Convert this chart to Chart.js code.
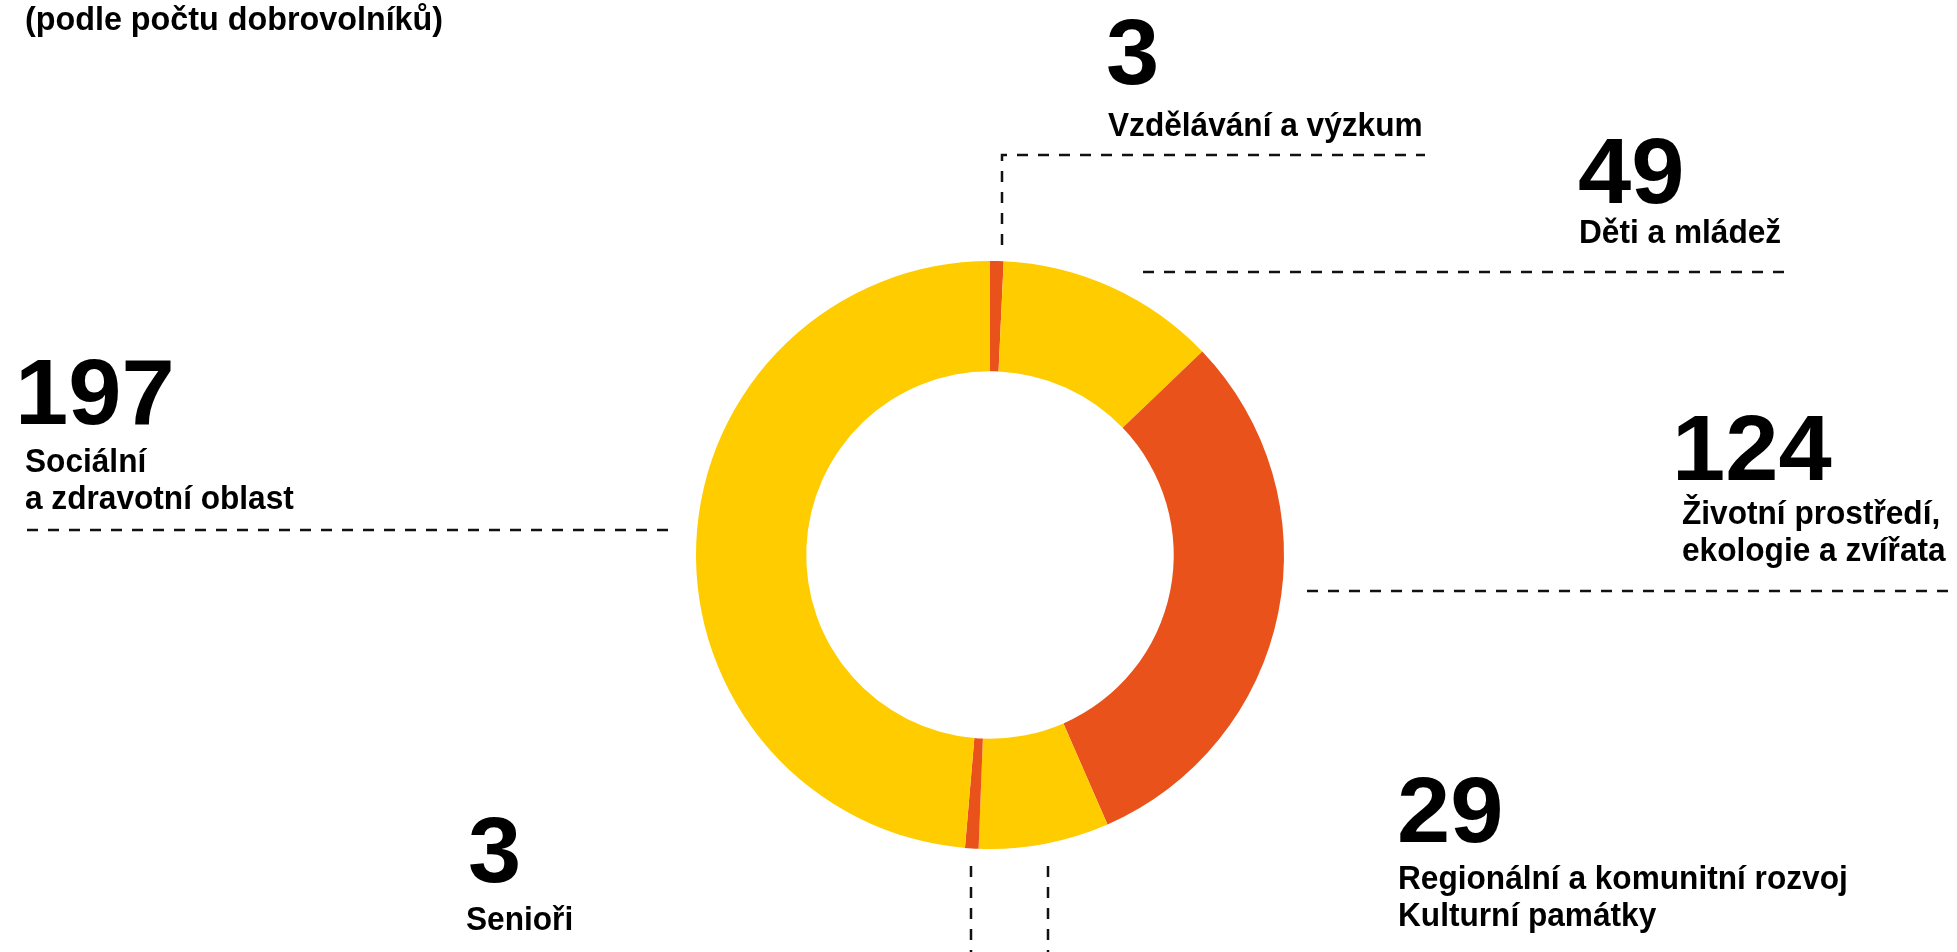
<!DOCTYPE html>
<html lang="cs">
<head>
<meta charset="utf-8">
<title>Dobrovolníci podle oblasti</title>
<script src="https://cdn.jsdelivr.net/npm/chart.js@4.4.1/dist/chart.umd.min.js"></script>
<style>
  html, body { margin: 0; padding: 0; background: #fff; }
  #wrap { position: relative; width: 1957px; height: 952px; overflow: hidden; }
</style>
</head>
<body>
<div id="wrap"><canvas id="donut"></canvas></div>
<script>
// data (clockwise from 12 o'clock)
const categories = [
  'Vzdělávání a výzkum',
  'Děti a mládež',
  'Životní prostředí, ekologie a zvířata',
  'Regionální a komunitní rozvoj, Kulturní památky',
  'Senioři',
  'Sociální a zdravotní oblast'
];
const volunteers = [3, 49, 124, 29, 3, 197];
const labelLines = [
  ['Vzdělávání a výzkum'],
  ['Děti a mládež'],
  ['Životní prostředí,', 'ekologie a zvířata'],
  ['Regionální a komunitní rozvoj', 'Kulturní památky'],
  ['Senioři'],
  ['Sociální', 'a zdravotní oblast']
];
const subtitle = '(podle počtu dobrovolníků)';

const YELLOW = '#FFCC00';
const ORANGE = '#E9531B';
const sliceColors = [ORANGE, YELLOW, ORANGE, YELLOW, ORANGE, YELLOW];

// where each callout sits: number x/baseline, label x/first baseline, dashed leader
const callouts = [
  { nx: 1106, ny: 84,  lx: 1108, ly: 136, line: [[1002, 245], [1002, 155], [1425, 155]] },
  { nx: 1578, ny: 203, lx: 1579, ly: 243, line: [[1143, 272], [1791, 272]] },
  { nx: 1672, ny: 480, lx: 1682, ly: 524, line: [[1307, 591], [1957, 591]] },
  { nx: 1397, ny: 842, lx: 1398, ly: 889, line: [[1048, 866], [1048, 952]] },
  { nx: 468,  ny: 882, lx: 466,  ly: 930, line: [[971, 866], [971, 952]] },
  { nx: 15,   ny: 424, lx: 25,   ly: 472, line: [[27, 530], [674, 530]] }
];

const FONT = '"Liberation Sans", Arial, Helvetica, sans-serif';

// text in the original is a touch narrower (or wider for numbers) than Arial
function drawText(ctx, text, x, y, size, sx) {
  ctx.save();
  ctx.translate(x, y);
  ctx.scale(sx, 1);
  ctx.font = 'bold ' + size + 'px ' + FONT;
  ctx.fillText(text, 0, 0);
  ctx.restore();
}

const calloutPlugin = {
  id: 'callouts',
  afterDraw(chart) {
    const ctx = chart.ctx;
    ctx.save();
    ctx.fillStyle = '#000';
    ctx.textBaseline = 'alphabetic';
    ctx.textAlign = 'left';

    drawText(ctx, subtitle, 25, 30, 34, 0.95);

    const values = chart.data.datasets[0].data;
    callouts.forEach((c, i) => {
      // dashed leader line
      ctx.strokeStyle = '#111';
      ctx.lineWidth = 2.5;
      ctx.setLineDash([11, 10]);
      ctx.beginPath();
      c.line.forEach((p, k) => k ? ctx.lineTo(p[0], p[1]) : ctx.moveTo(p[0], p[1]));
      ctx.stroke();
      ctx.setLineDash([]);

      drawText(ctx, String(values[i]), c.nx, c.ny, 92, 1.04);
      labelLines[i].forEach((t, k) => drawText(ctx, t, c.lx, c.ly + k * 37, 34, 0.93));
    });
    ctx.restore();
  }
};

new Chart(document.getElementById('donut'), {
  type: 'doughnut',
  data: {
    labels: categories,
    datasets: [{
      data: volunteers,
      backgroundColor: sliceColors,
      borderWidth: 0
    }]
  },
  options: {
    responsive: true,
    maintainAspectRatio: false,
    animation: false,
    cutout: '62.5%',
    layout: { padding: { left: 695, right: 672, top: 261, bottom: 103 } },
    plugins: {
      legend: { display: false },
      tooltip: { enabled: false }
    }
  },
  plugins: [calloutPlugin]
});
</script>
</body>
</html>
